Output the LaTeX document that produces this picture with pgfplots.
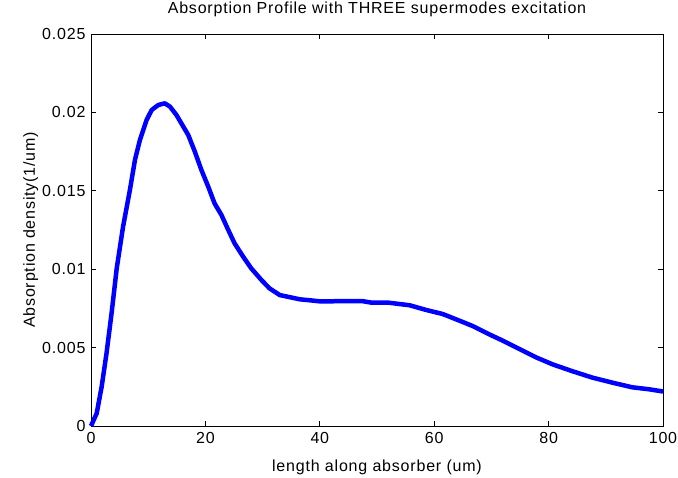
\documentclass[border=0pt]{standalone}
\usepackage{pgfplots}
\pgfplotsset{compat=1.18}
\usepackage{fontspec}
\setmainfont{Liberation Sans}[LetterSpace=5]
\newcommand\lblfont{\fontsize{16bp}{18bp}\selectfont}
\begin{document}
\lblfont
\begin{tikzpicture}
\begin{axis}[
  at={(0,0)}, anchor=origin,
  scale only axis,
  width=572bp, height=392bp,
  xmin=0, xmax=100, ymin=0, ymax=0.025,
  xtick={0,20,40,60,80,100},
  ytick={0,0.005,0.01,0.015,0.02,0.025},
  yticklabels={0,0.005,0.01,0.015,0.02,0.025},
  scaled y ticks=false,
  tick align=inside,
  major tick length=5bp,
  tick style={black, line width=0.7bp},
  axis line style={black, line width=0.9bp},
  every tick label/.append style={font=\lblfont},
  /pgf/number format/assume math mode=true,
  xticklabel style={yshift=-1bp},
  yticklabel style={xshift=0bp},
  title={Absorption Profile with THREE supermodes excitation},
  title style={font=\lblfont, at={([yshift=15bp]axis description cs:0.5,1)}, anchor=base},
  xlabel={length along absorber (um)},
  ylabel={Absorption density(1/um)},
  xlabel style={font=\lblfont, at={([yshift=-45bp]axis description cs:0.5,0)}, anchor=base},
  ylabel style={font=\lblfont, at={([xshift=-56bp]axis description cs:0,0.5)}, anchor=base},
  clip=false,
]
\addplot[color={rgb,255:red,0;green,0;blue,255}, line width=4.5bp, line join=round] coordinates {
(0,0) (1.0,0.00081) (1.86,0.0025) (2.7,0.0046) (3.6,0.0072) (4.5,0.01006)
(5.6,0.0127) (6.8,0.01505) (7.7,0.017) (8.55,0.01824) (9.7,0.0195)
(10.6,0.02015) (11.75,0.02047) (12.9,0.02058) (13.8,0.02037) (14.95,0.01983)
(15.8,0.0193) (17,0.01856) (18.15,0.0175) (19.3,0.01633) (20.5,0.01526)
(21.6,0.0142) (22.8,0.01346) (24,0.0125) (25.1,0.01165) (26.6,0.0108)
(28.0,0.01006) (29.8,0.00931) (31.2,0.00878) (33,0.00835) (34.7,0.00822)
(36.5,0.00808) (38.2,0.00802) (40,0.00795) (44,0.00796) (47.5,0.00796)
(49,0.00787) (51.9,0.00787) (55.7,0.0077) (58.6,0.0074) (61.5,0.00714)
(64.4,0.00672) (66.7,0.00638) (69.6,0.00585) (72,0.00544) (74.9,0.00491)
(77.8,0.00438) (80.7,0.00393) (84.2,0.00349) (87.7,0.00308) (91.2,0.00276)
(94.6,0.00247) (97.6,0.00234) (100,0.0022)
};
\end{axis}
\pgfresetboundingbox
\path (-91bp,-52bp) rectangle (587bp,426bp);
\end{tikzpicture}
\end{document}
